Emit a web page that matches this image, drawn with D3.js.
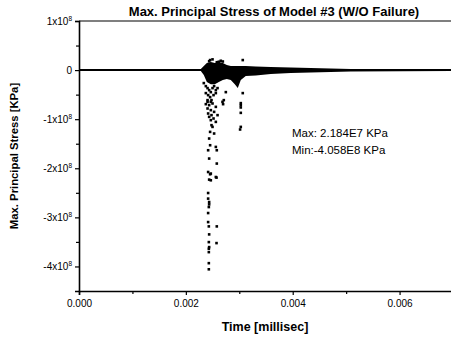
<!DOCTYPE html>
<html>
<head>
<meta charset="utf-8">
<script src="https://cdn.jsdelivr.net/npm/d3@7"></script>
<style>
  body { margin: 0; background: #fff; }
  text { font-family: "Liberation Sans", Arial, sans-serif; fill: #000; }
</style>
</head>
<body>
<div id="root"></div>
<script>
// Chart texts
const title = "Max. Principal Stress of Model #3 (W/O Failure)";
const xTitle = "Time [millisec]";
const yTitle = "Max. Principal Stress [KPa]";
const notes = ["Max: 2.184E7 KPa", "Min:-4.058E8 KPa"];

// Tick values / labels
const xTicks = [0, 0.002, 0.004, 0.006];
const xTickLabels = ["0.000", "0.002", "0.004", "0.006"];
const xMinorTicks = [0.001, 0.003, 0.005];
const yTicks = [1e8, 0, -1e8, -2e8, -3e8, -4e8];
const yTickMant = ["1", "0", "-1", "-2", "-3", "-4"];
const yMinorTicks = [0.5e8, -0.5e8, -1.5e8, -2.5e8, -3.5e8];

// Envelope of the dense band of points around zero (time ms, upper / lower KPa)
const bandTime  = [0, 0.00228, 0.002336, 0.002393, 0.002467, 0.002542, 0.002617, 0.002692, 0.002766, 0.002841, 0.002916, 0.002972, 0.003028, 0.003121, 0.003308, 0.003589, 0.003963, 0.004336, 0.00471, 0.005084, 0.00697];
const bandUpper = [0.02e8, 0.02e8, 0.082e8, 0.143e8, 0.163e8, 0.143e8, 0.163e8, 0.143e8, 0.102e8, 0.082e8, 0.082e8, 0.082e8, 0.082e8, 0.082e8, 0.071e8, 0.061e8, 0.051e8, 0.041e8, 0.031e8, 0.02e8, 0.02e8];
const bandLower = [-0.02e8, -0.02e8, -0.102e8, -0.245e8, -0.286e8, -0.286e8, -0.245e8, -0.204e8, -0.184e8, -0.204e8, -0.286e8, -0.367e8, -0.204e8, -0.122e8, -0.112e8, -0.082e8, -0.061e8, -0.051e8, -0.041e8, -0.03e8, -0.02e8];

// Scattered points outside the band
const ptTime = [
  0.002454, 0.002499, 0.002654, 0.003065, 0.00258, 0.002436, 0.002617, 0.002692,
  0.002336, 0.002374, 0.002406, 0.002436, 0.002467, 0.002499, 0.002529, 0.002561, 0.002374, 0.002417,
  0.002454, 0.00248, 0.002406, 0.002518, 0.002561, 0.002593, 0.00271, 0.002748, 0.003028, 0.003065,
  0.002406, 0.002467, 0.002374, 0.002436, 0.002499, 0.002561, 0.002686, 0.002697, 0.002406, 0.002467,
  0.002529, 0.002417, 0.00248, 0.002436, 0.002518, 0.002593, 0.002467, 0.002561, 0.00248, 0.002499,
  0.002454, 0.002529, 0.002436, 0.002454, 0.002561, 0.002579, 0.002417, 0.002436, 0.002579, 0.002417,
  0.002467, 0.002561, 0.003028, 0.003028, 0.003028, 0.003028, 0.003015,
  0.002454, 0.002436, 0.002467, 0.002574, 0.002417, 0.002417, 0.002436, 0.002436, 0.00243, 0.002417,
  0.002417, 0.00243, 0.002579, 0.002436, 0.00243, 0.002574, 0.002436, 0.00243, 0.00243, 0.00243, 0.00243
];
const ptStress = [
  0.204e8, 0.2184e8, 0.19e8, 0.204e8, 0.16e8, 0.18e8, 0.17e8, 0.175e8,
  -0.265e8, -0.327e8, -0.367e8, -0.408e8, -0.449e8, -0.367e8, -0.327e8, -0.408e8, -0.469e8, -0.51e8,
  -0.551e8, -0.612e8, -0.612e8, -0.51e8, -0.469e8, -0.367e8, -0.612e8, -0.449e8, -0.673e8, -0.469e8,
  -0.647e8, -0.647e8, -0.694e8, -0.714e8, -0.68e8, -0.749e8, -0.647e8, -0.694e8, -0.782e8, -0.816e8,
  -0.851e8, -0.884e8, -0.918e8, -0.953e8, -0.986e8, -0.918e8, -1.02e8, -1.055e8, -1.122e8, -1.157e8,
  -1.259e8, -1.292e8, -1.394e8, -1.531e8, -1.565e8, -1.633e8, -1.633e8, -1.802e8, -1.904e8, -2.076e8,
  -2.108e8, -2.178e8, -0.714e8, -0.761e8, -0.871e8, -1.157e8, -1.21e8,
  -2.122e8, -2.231e8, -2.245e8, -2.19e8, -2.504e8, -2.618e8, -2.688e8, -2.735e8, -2.79e8, -2.912e8,
  -3.096e8, -3.184e8, -3.184e8, -3.347e8, -3.504e8, -3.524e8, -3.606e8, -3.639e8, -3.708e8, -3.933e8, -4.058e8
];

const width = 451;
const height = 337;
const margin = { top: 21, right: 0, bottom: 46, left: 79 };

const svg = d3.select("#root")
  .append("svg")
    .attr("width", width)
    .attr("height", height);

svg.append("rect")
  .attr("width", width).attr("height", height)
  .attr("fill", "#fff");

const xScale = d3.scaleLinear()
  .domain([0, 0.007])
  .range([margin.left, 453]);

const yScale = d3.scaleLinear()
  .domain([-4.5e8, 1e8])
  .range([height - margin.bottom, margin.top]);

// band around zero
const band = d3.area()
  .x(i => xScale(bandTime[i]))
  .y0(i => yScale(bandLower[i]))
  .y1(i => yScale(bandUpper[i]));

svg.append("path")
  .datum(d3.range(bandTime.length))
    .attr("d", band)
    .attr("fill", "#000");

// points
svg.append("g")
  .selectAll("rect")
  .data(d3.range(ptTime.length))
  .join("rect")
    .attr("x", i => xScale(ptTime[i]) - 1.3)
    .attr("y", i => yScale(ptStress[i]) - 1.3)
    .attr("width", 2.6)
    .attr("height", 2.6)
    .attr("fill", "#000");

// frame top line
svg.append("line")
  .attr("x1", margin.left).attr("x2", width)
  .attr("y1", yScale(1e8)).attr("y2", yScale(1e8))
  .attr("stroke", "#000").attr("stroke-width", 1.2);

// axes
const xAxis = svg.append("g")
  .attr("transform", `translate(0, ${yScale(-4.5e8)})`)
  .call(d3.axisBottom(xScale).tickValues(xTicks).tickSize(4)
    .tickFormat((d, i) => xTickLabels[i]));
xAxis.append("g")
  .call(d3.axisBottom(xScale).tickValues(xMinorTicks).tickSize(3).tickFormat(""))
  .select(".domain").remove();

const yAxis = svg.append("g")
  .attr("transform", `translate(${margin.left}, 0)`)
  .call(d3.axisLeft(yScale).tickValues(yTicks).tickSize(4).tickFormat(""));
yAxis.append("g")
  .call(d3.axisLeft(yScale).tickValues(yMinorTicks).tickSize(3).tickFormat(""))
  .select(".domain").remove();

svg.selectAll(".domain").attr("stroke-width", 1.6);
svg.selectAll(".tick line").attr("stroke-width", 1.2);
xAxis.selectAll("text")
  .attr("font-size", 10)
  .attr("font-family", "Liberation Sans, Arial, sans-serif")
  .attr("dy", "0.85em");

// y tick labels with superscripts
const yLab = svg.append("g")
  .selectAll("text")
  .data(yTicks)
  .join("text")
    .attr("x", margin.left - 7)
    .attr("y", d => yScale(d) + 3.5)
    .attr("text-anchor", "end")
    .attr("font-size", 10);
yLab.each(function (d, i) {
  const t = d3.select(this);
  if (d === 0) { t.text("0"); return; }
  t.append("tspan").text(yTickMant[i] + "x10");
  t.append("tspan").text("8").attr("font-size", 6.5).attr("dy", -4);
});

// titles
svg.append("text")
  .text(title)
  .attr("x", 274).attr("y", 16)
  .attr("text-anchor", "middle")
  .attr("font-size", 13)
  .attr("font-weight", "bold");

svg.append("text")
  .text(xTitle)
  .attr("x", 265).attr("y", 331)
  .attr("text-anchor", "middle")
  .attr("font-size", 12.5)
  .attr("font-weight", "bold");

svg.append("text")
  .text(yTitle)
  .attr("transform", `translate(18, ${156})rotate(-90)`)
  .attr("text-anchor", "middle")
  .attr("font-size", 11.3)
  .attr("font-weight", "bold");

svg.append("g")
  .selectAll("text")
  .data(notes)
  .join("text")
    .text(d => d)
    .attr("x", 292)
    .attr("y", (d, i) => 137 + i * 17)
    .attr("font-size", 11.5);
</script>
</body>
</html>
